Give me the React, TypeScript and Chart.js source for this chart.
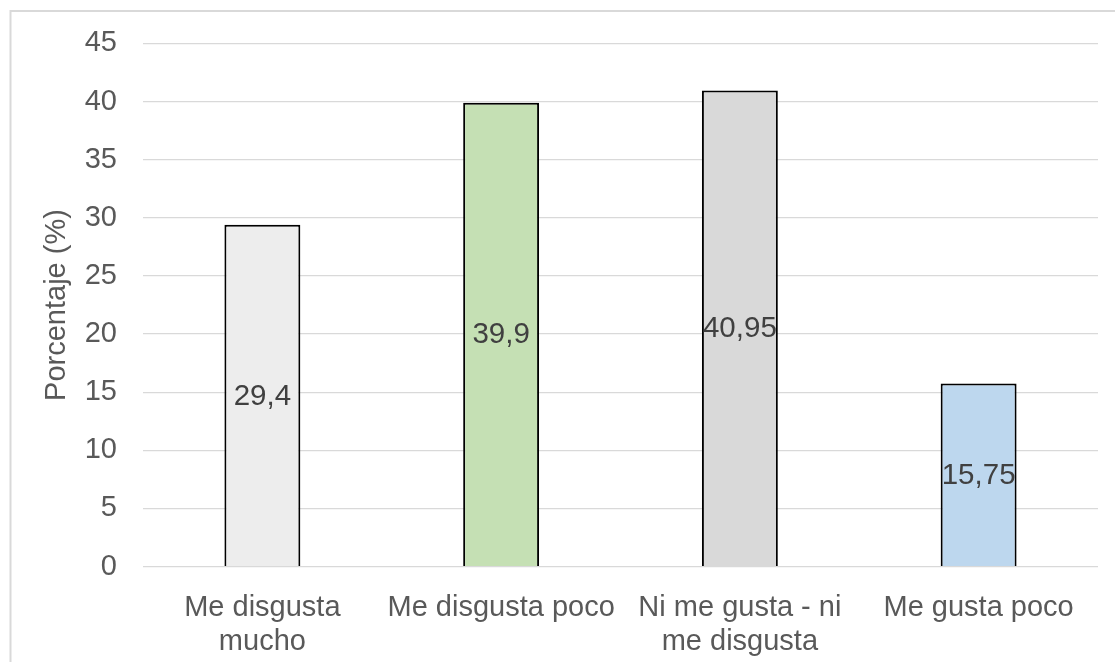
import React, { useEffect, useRef } from "react";
import { Chart, registerables } from "chart.js";

Chart.register(...registerables);

// Response categories (multi-line labels) and their percentages
const categories: string[][] = [
  ["Me disgusta", "mucho"],
  ["Me disgusta poco"],
  ["Ni me gusta - ni", "me disgusta"],
  ["Me gusta poco"],
];
const percentages: number[] = [29.4, 39.9, 40.95, 15.75];
const barColors: string[] = ["#EDEDED", "#C5E0B4", "#D9D9D9", "#BDD7EE"];

const yTitle = "Porcentaje (%)";
const yMin = 0;
const yMax = 45;
const yStep = 5;

const FONT = '"Liberation Sans", Arial, sans-serif';
const TEXT = "#595959";
const LABEL = "#404040";
const GRID = "#D9D9D9";

// Values written in the middle of each bar, with a decimal comma
const centerLabels = {
  id: "centerLabels",
  afterDatasetsDraw(chart: Chart) {
    const ctx = chart.ctx;
    const meta = chart.getDatasetMeta(0);
    const data = chart.data.datasets[0].data as number[];
    ctx.save();
    ctx.font = `29.5px ${FONT}`;
    ctx.fillStyle = LABEL;
    ctx.textAlign = "center";
    ctx.textBaseline = "middle";
    meta.data.forEach((el: any, i: number) => {
      const text = String(data[i]).replace(".", ",");
      ctx.fillText(text, el.x, (el.y + el.base) / 2 + 1);
    });
    ctx.restore();
  },
};

// Light frame along the left and top edges of the chart
const frame = {
  id: "frame",
  beforeDraw(chart: Chart) {
    const ctx = chart.ctx;
    ctx.save();
    ctx.fillStyle = "#FFFFFF";
    ctx.fillRect(0, 0, chart.width, chart.height);
    ctx.strokeStyle = "#D9D9D9";
    ctx.lineWidth = 2;
    ctx.beginPath();
    ctx.moveTo(10.5, chart.height);
    ctx.lineTo(10.5, 11);
    ctx.lineTo(chart.width, 11);
    ctx.stroke();
    ctx.restore();
  },
};

export default function App() {
  const canvasRef = useRef<HTMLCanvasElement | null>(null);

  useEffect(() => {
    if (!canvasRef.current) return;
    const chart = new Chart(canvasRef.current, {
      type: "bar",
      data: {
        labels: categories,
        datasets: [
          {
            data: percentages,
            backgroundColor: barColors,
            borderColor: "#000000",
            borderWidth: 2,
            barPercentage: 0.318,
            categoryPercentage: 1,
          },
        ],
      },
      options: {
        responsive: false,
        animation: false,
        devicePixelRatio: 1,
        layout: { padding: { left: 0, top: 40.5, right: 17, bottom: 0 } },
        plugins: {
          legend: { display: false },
          tooltip: { enabled: false },
        },
        scales: {
          x: {
            grid: { display: false },
            border: { display: false },
            ticks: {
              color: TEXT,
              padding: 17,
              maxRotation: 0,
              autoSkip: false,
              font: { family: FONT, size: 29, lineHeight: 1.15 },
            },
            afterFit: (scale: any) => {
              scale.height = 95.4;
            },
          },
          y: {
            min: yMin,
            max: yMax,
            grid: { color: GRID, lineWidth: 1.3, drawTicks: false },
            border: { display: false },
            ticks: {
              stepSize: yStep,
              color: TEXT,
              padding: 26,
              font: { family: FONT, size: 29 },
            },
            title: {
              display: true,
              text: yTitle,
              color: TEXT,
              font: { family: FONT, size: 29 },
              padding: { top: 39.5, bottom: 0 },
            },
            afterFit: (scale: any) => {
              scale.width = 143;
            },
          },
        },
      },
      plugins: [frame, centerLabels],
    });
    return () => chart.destroy();
  }, []);

  return (
    <div style={{ position: "absolute", left: 0, top: 0, width: 1115, height: 662, background: "#fff" }}>
      <canvas ref={canvasRef} width={1115} height={662} style={{ display: "block", width: 1115, height: 662 }} />
    </div>
  );
}
